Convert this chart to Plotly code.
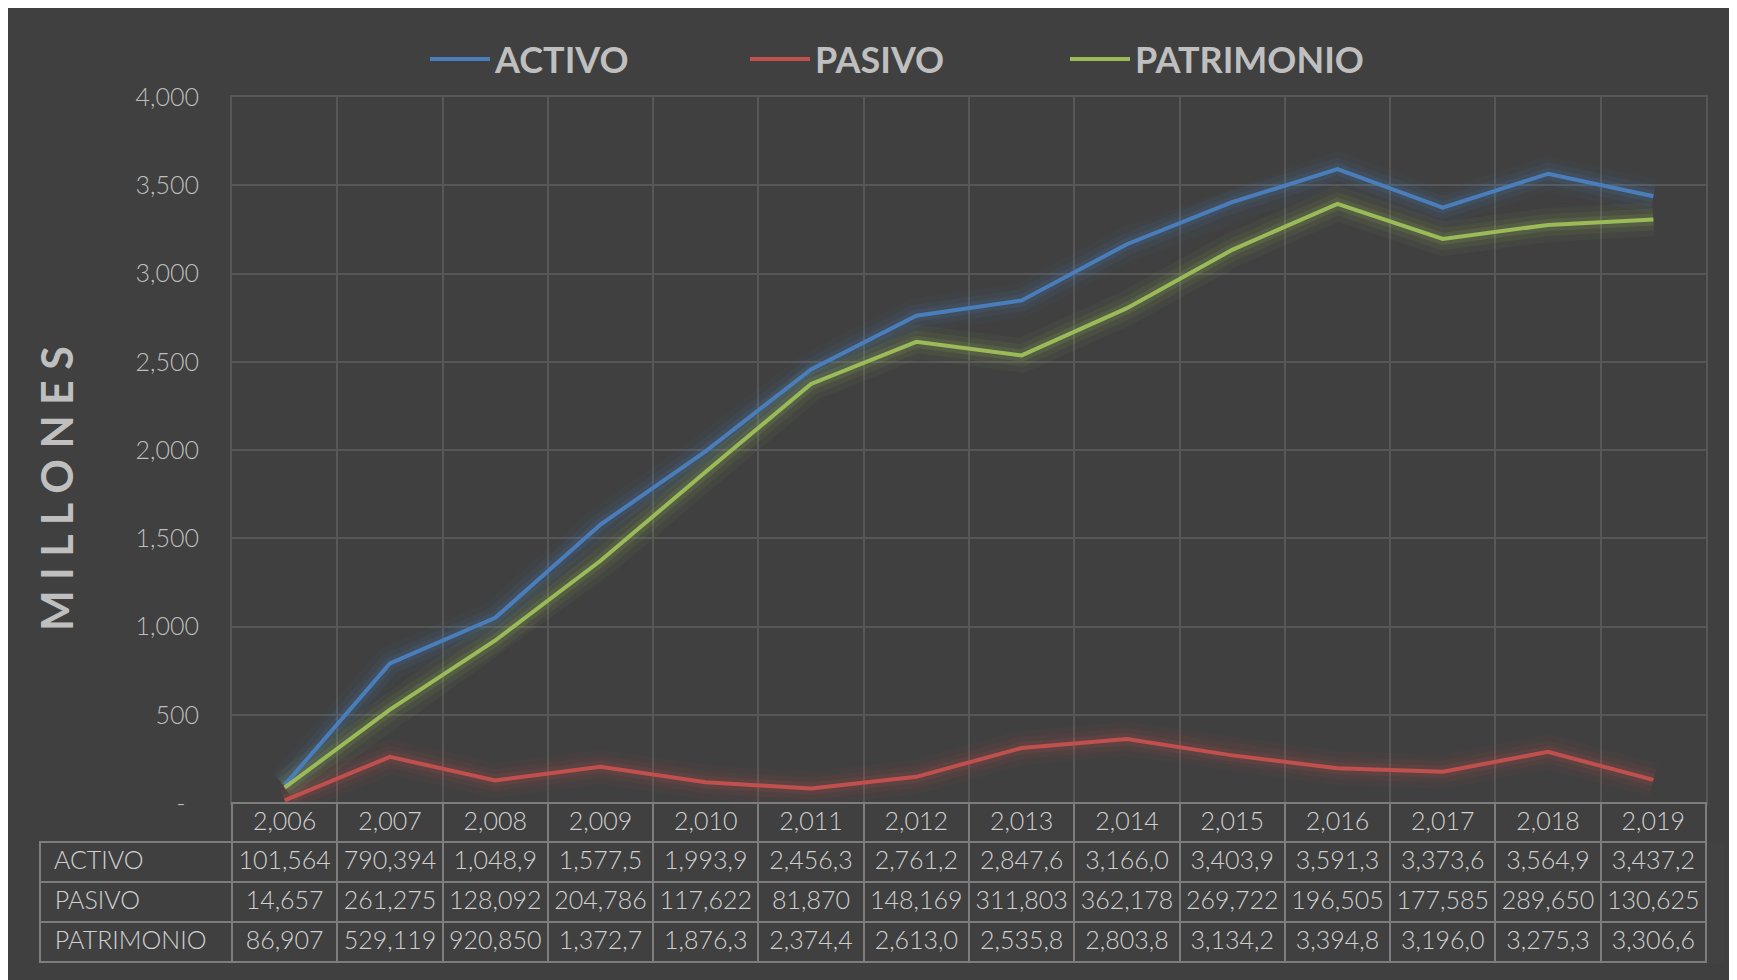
import plotly.graph_objects as go

# data (millones)
years = [2006, 2007, 2008, 2009, 2010, 2011, 2012, 2013, 2014, 2015, 2016, 2017, 2018, 2019]
activo = [101.564, 790.394, 1048.9, 1577.5, 1993.9, 2456.3, 2761.2, 2847.6,
          3166.0, 3403.9, 3591.3, 3373.6, 3564.9, 3437.2]
pasivo = [14.657, 261.275, 128.092, 204.786, 117.622, 81.870, 148.169, 311.803,
          362.178, 269.722, 196.505, 177.585, 289.650, 130.625]
patrimonio = [86.907, 529.119, 920.850, 1372.7, 1876.3, 2374.4, 2613.0, 2535.8,
              2803.8, 3134.2, 3394.8, 3196.0, 3275.3, 3306.6]

series_names = ["ACTIVO", "PASIVO", "PATRIMONIO"]
y_tickvals = [0, 500, 1000, 1500, 2000, 2500, 3000, 3500, 4000]
y_ticktext = ["-\u00a0\u00a0", "500", "1,000", "1,500", "2,000", "2,500", "3,000", "3,500", "4,000"]

BG = "#404040"
GRID = "#575757"
BORDER = "#7d7d7d"
TXT = "#bfbfbf"
CLEAR = "rgba(0,0,0,0)"
COLORS = ["#4a7ebb", "#c0504d", "#9bbb59"]

W, H = 1737, 980


def cell_text(v):
    # the cells in the original are clipped: "1,048,9" / "101,564"
    if v < 1000:
        return f"{v:.3f}".replace(".", ",")
    return f"{int(v):,}," + f"{v:.1f}".split(".")[1]


def fx(px):
    return px / W


def fy(py):
    return 1 - py / H


cats = [f"{y:,}" for y in years]
fig = go.Figure()

# soft glow under each line
for vals, col in zip([activo, pasivo, patrimonio], COLORS):
    for w, op in [(34, 0.05), (22, 0.08), (12, 0.13)]:
        fig.add_trace(go.Scatter(x=cats, y=vals, mode="lines", showlegend=False,
                                 hoverinfo="skip", opacity=op,
                                 line=dict(color=col, width=w)))

for name, vals, col in zip(series_names, [activo, pasivo, patrimonio], COLORS):
    fig.add_trace(go.Scatter(x=cats, y=vals, mode="lines", name=name,
                             line=dict(color=col, width=4)))

# data table under the plot
n = len(years)
header_vals = [""] + cats
cell_vals = [["\u00a0" + s for s in series_names]] + [
    [cell_text(a), cell_text(p), cell_text(t)] for a, p, t in zip(activo, pasivo, patrimonio)]
fig.add_trace(go.Table(
    domain=dict(x=[fx(32), fx(1698)], y=[fy(956), fy(795)]),
    columnwidth=[192] + [105.3] * n,
    header=dict(values=header_vals, height=39, fill_color=[CLEAR] + [BG] * n,
                line=dict(color=[CLEAR] + [BORDER] * n, width=2),
                align="center",
                font=dict(family="Lato", size=25, color="#d0d0d0", weight=300)),
    cells=dict(values=cell_vals, height=40, fill_color=BG,
               line=dict(color=BORDER, width=2),
               align=["left"] + ["center"] * n,
               font=dict(family="Lato", size=25, color="#d0d0d0", weight=300)),
))

fig.add_annotation(text="M I L L O N E S", textangle=-90, x=fx(48), y=fy(481),
                   xref="paper", yref="paper", xanchor="center", yanchor="middle",
                   showarrow=False,
                   font=dict(family="Lato", size=43, color=TXT, weight="bold"))

fig.update_layout(
    width=W, height=H,
    margin=dict(l=0, r=0, t=0, b=0),
    paper_bgcolor=BG, plot_bgcolor=BG,
    showlegend=True,
    legend=dict(orientation="h", x=fx(417), y=fy(51), xanchor="left", yanchor="middle",
                font=dict(family="Lato", size=36, color=TXT, weight="bold"),
                itemwidth=60, entrywidth=245, bgcolor=CLEAR),
    xaxis=dict(domain=[fx(224), fx(1698)], type="category", range=[-0.5, 13.5],
               tickson="boundaries", showgrid=True, gridcolor=GRID, gridwidth=2,
               showticklabels=False, ticks="", showline=True, mirror=True,
               linecolor=GRID, linewidth=2, automargin=False),
    yaxis=dict(domain=[fy(795), fy(89)], range=[0, 4000], tickvals=y_tickvals,
               ticktext=y_ticktext, showgrid=True, gridcolor=GRID, gridwidth=2,
               zeroline=False, showline=True, mirror=True, linecolor=GRID, linewidth=2,
               ticklabelstandoff=26, automargin=False,
               tickfont=dict(family="Lato", size=25, color=TXT, weight=300)),
)

fig.write_html("out.html")
